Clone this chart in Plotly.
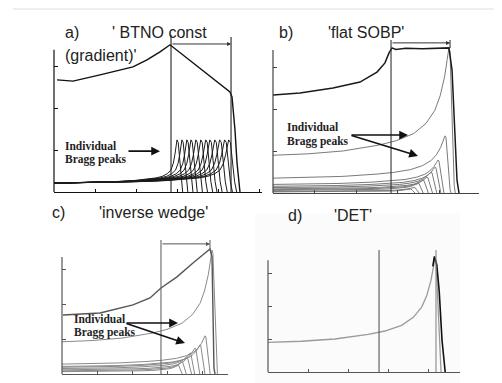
import plotly.graph_objects as go

W, H = 502, 383
OFF = 8  # the page body adds an 8px margin; picture coordinates are shifted back by it

# ---------------- data (axis units) ----------------
# panel a  'BTNO const (gradient)'
A_SOBP_X = [0.37, 2.32, 5.61, 9.63, 11.34, 12.93, 14.15, 21.46, 21.71, 22.07, 22.32, 22.68]
A_SOBP_Y = [2.69, 2.66, 2.81, 3.00, 3.17, 3.36, 3.53, 2.40, 2.28, 1.49, 0.70, 0.0]
A_PEAK_RANGE = [15.0, 15.6, 16.2, 16.7, 17.3, 17.9, 18.5, 19.0, 19.6, 20.2, 20.8, 21.3]
A_PEAK_DOSE = [1.25, 1.25, 1.25, 1.25, 1.25, 1.25, 1.25, 1.25, 1.25, 1.25, 1.25, 1.25]
A_SHAPE_FRAC = [0, 0.3, 0.5, 0.65, 0.75, 0.83, 0.88, 0.92, 0.95, 0.97, 0.983, 0.993, 1.0, 1.01, 1.022, 1.034, 1.046]
A_SHAPE_REL = [0.17, 0.18, 0.2, 0.22, 0.24, 0.27, 0.30, 0.35, 0.42, 0.55, 0.72, 0.9, 1.0, 0.95, 0.6, 0.2, 0.0]

# panel b  'flat SOBP'
B_SOBP_X = [0.0, 3.25, 7.23, 10.48, 12.53, 13.49, 13.98, 14.34, 14.8, 16.0, 18.0, 20.0, 21.2, 21.57, 21.93, 22.17, 22.41]
B_SOBP_Y = [2.35, 2.40, 2.52, 2.66, 2.90, 3.12, 3.36, 3.48, 3.44, 3.47, 3.46, 3.47, 3.48, 2.95, 1.51, 0.31, 0.0]
B_PEAK_RANGE = [21.2, 20.72, 19.88, 19.52, 19.04, 18.55, 18.07, 17.47, 16.99, 16.51]
B_PEAK_DOSE = [3.48, 1.37, 0.79, 0.62, 0.50, 0.38, 0.31, 0.24, 0.14, 0.10]

# panel c  'inverse wedge'
C_SOBP_X = [0.14, 5.43, 10.14, 12.57, 14.14, 16.43, 18.71, 21.14, 21.43, 21.71, 21.86]
C_SOBP_Y = [1.70, 1.76, 1.99, 2.19, 2.48, 2.80, 3.20, 3.60, 3.37, 0.17, 0.0]
C_PEAK_RANGE = [21.43, 20.43, 19.71, 19.0, 18.29, 17.86, 17.14, 16.57]
C_PEAK_DOSE = [3.57, 1.10, 0.84, 0.75, 0.61, 0.46, 0.35, 0.26]

# panel d  'DET'
D_PEAK_RANGE = [20.88]
D_PEAK_DOSE = [3.45]
D_FALL_X = [20.6, 20.8, 21.1, 21.4, 21.75, 22.0, 22.15]
D_FALL_Y = [3.2, 3.5, 3.25, 2.45, 0.97, 0.2, 0.0]

# common Bragg-peak profile (depth / range, dose / peak dose)
T_SHAPE_FRAC = [0, 0.2, 0.4, 0.6, 0.7, 0.8, 0.87, 0.92, 0.95, 0.975, 0.99, 0.997, 1.0, 1.006, 1.018, 1.03, 1.036]
T_SHAPE_REL = [0.26, 0.27, 0.29, 0.33, 0.36, 0.41, 0.48, 0.57, 0.67, 0.8, 0.92, 0.98, 1.0, 0.97, 0.57, 0.05, 0.0]

# vertical marker lines: (x, y_top, y_bottom)
A_VLINES = [(14.27, 3.77, 0.0), (21.59, 3.72, 0.0)]
B_VLINES = [(14.22, 3.67, 0.0), (21.33, 3.67, 3.48)]
C_VLINES = [(14.14, 3.86, 0.0), (21.14, 3.86, 3.6)]
D_VLINES = [(13.88, 3.7, 0.0), (21.0, 3.7, 0.0)]
# SOBP width brackets: (x_start, x_end, y)
A_BRACKET = (14.27, 21.59, 3.55)
B_BRACKET = (14.22, 21.33, 3.60)
C_BRACKET = (14.14, 21.14, 3.75)
# 'Individual Bragg peaks' arrows: tail, head
A_ARROWS = [((8.9, 0.98), (12.93, 0.98))]
B_ARROWS = [((9.28, 1.39), (16.27, 1.39)), ((9.28, 1.39), (17.47, 0.89))]
C_ARROWS = [((9.0, 1.47), (16.57, 1.47)), ((9.0, 1.47), (17.57, 0.89))]

TICKS_X = [5, 10, 15, 20, 25]
TICKS_Y = [1, 2, 3]


def fx(px):
    return (px - OFF) / W


def fy(py):
    return 1 - (py - OFF) / H


# ---------------- layout geometry (pixels in the reference) ----------------
panels = [
    dict(k='', left=54, right=262, bottom=192, top=33, xs=8.2, ys=41.7, spine_top=3.41, axc='#111'),
    dict(k='2', left=273, right=479, bottom=193, top=33, xs=8.3, ys=41.7, spine_top=3.43, axc='#444'),
    dict(k='3', left=62, right=228, bottom=374, top=236, xs=7.0, ys=34.7, spine_top=3.37, axc='#555'),
    dict(k='4', left=268, right=460, bottom=372, top=245, xs=8.0, ys=33.0, spine_top=3.39, axc='#555'),
]

fig = go.Figure()


def add_line(x, y, k, color, width):
    fig.add_trace(go.Scatter(x=x, y=y, mode='lines', xaxis='x' + k, yaxis='y' + k,
                             line=dict(color=color, width=width), hoverinfo='skip',
                             showlegend=False))


def add_peaks(ranges, doses, frac, rel, k, color, width):
    for R, D in zip(ranges, doses):
        add_line([R * f for f in frac], [D * r for r in rel], k, color, width)


# panel a
add_peaks(A_PEAK_RANGE, A_PEAK_DOSE, A_SHAPE_FRAC, A_SHAPE_REL, '', '#1a1a1a', 1.0)
add_line(A_SOBP_X, A_SOBP_Y, '', '#111', 1.4)
# panel b
add_peaks(B_PEAK_RANGE, B_PEAK_DOSE, T_SHAPE_FRAC, T_SHAPE_REL, '2', '#7a7a7a', 1.0)
add_line(B_SOBP_X, B_SOBP_Y, '2', '#1a1a1a', 1.5)
# panel c
add_peaks(C_PEAK_RANGE, C_PEAK_DOSE, T_SHAPE_FRAC, T_SHAPE_REL, '3', '#8a8a8a', 1.0)
add_line(C_SOBP_X, C_SOBP_Y, '3', '#555', 1.4)
# panel d
add_peaks(D_PEAK_RANGE, D_PEAK_DOSE, T_SHAPE_FRAC, T_SHAPE_REL, '4', '#9a9a9a', 1.3)
add_line(D_FALL_X, D_FALL_Y, '4', '#111', 1.6)

layout = dict(width=W, height=H, margin=dict(l=0, r=0, t=0, b=0),
              paper_bgcolor='white', plot_bgcolor='rgba(0,0,0,0)', showlegend=False)
shapes = []
annotations = []

for p in panels:
    k = p['k']
    xmax = (p['right'] - p['left']) / p['xs']
    ymax = (p['bottom'] - p['top']) / p['ys']
    layout['xaxis' + k] = dict(domain=[fx(p['left']), fx(p['right'])], range=[0, xmax],
                               anchor='y' + k, showline=True, linecolor=p['axc'], linewidth=1.2,
                               ticks='inside', ticklen=3, tickwidth=1, tickcolor=p['axc'],
                               tickvals=TICKS_X, showticklabels=False, showgrid=False,
                               zeroline=False, fixedrange=True)
    layout['yaxis' + k] = dict(domain=[fy(p['bottom']), fy(p['top'])], range=[0, ymax],
                               anchor='x' + k, showline=False,
                               ticks='inside', ticklen=4, tickwidth=1, tickcolor=p['axc'],
                               tickvals=TICKS_Y, showticklabels=False, showgrid=False,
                               zeroline=False, fixedrange=True)
    # y spine (domain references, so it is not clipped)
    shapes.append(dict(type='line', xref='x' + k + ' domain', yref='y' + k + ' domain',
                       x0=0, x1=0, y0=0, y1=p['spine_top'] / ymax,
                       line=dict(color=p['axc'], width=1.2)))

vl_colors = ['#222', '#333', '#666', '#555']
for p, vls, c in zip(panels, [A_VLINES, B_VLINES, C_VLINES, D_VLINES], vl_colors):
    k = p['k']
    for x, yt, yb in vls:
        shapes.append(dict(type='line', xref='x' + k, yref='y' + k, x0=x, x1=x, y0=yb, y1=yt,
                           line=dict(color=c, width=1.1)))
# second vline in d is light grey
shapes[-1]['line']['color'] = '#888'

for p, br, c in zip(panels[:3], [A_BRACKET, B_BRACKET, C_BRACKET], ['#333', '#333', '#555']):
    k = p['k']
    annotations.append(dict(xref='x' + k, yref='y' + k, axref='x' + k, ayref='y' + k,
                            x=br[1], y=br[2], ax=br[0], ay=br[2], text='', showarrow=True,
                            arrowhead=2, arrowsize=0.8, arrowwidth=1, arrowcolor=c))

for p, arrs in zip(panels[:3], [A_ARROWS, B_ARROWS, C_ARROWS]):
    k = p['k']
    for (tx, ty), (hx, hy) in arrs:
        annotations.append(dict(xref='x' + k, yref='y' + k, axref='x' + k, ayref='y' + k,
                                x=hx, y=hy, ax=tx, ay=ty, text='', showarrow=True,
                                arrowhead=2, arrowsize=1.1, arrowwidth=1.6, arrowcolor='#111'))

# labels  (text, x px, y px)
SANS = 'Liberation Sans, Arial, sans-serif'
SERIF = 'Liberation Serif, Times New Roman, serif'
titles = [('a)', 63, 33), ("' BTNO const", 110, 33), ("(gradient)'", 63, 56),
          ('b)', 277, 33), ("'flat SOBP'", 326, 33),
          ('c)', 50, 212), ("'inverse wedge'", 97, 212),
          ('d)', 286, 215), ("'DET'", 332, 215)]
for t, x, y in titles:
    annotations.append(dict(xref='paper', yref='paper', x=fx(x), y=fy(y), text=t,
                            showarrow=False, xanchor='left', yanchor='middle',
                            font=dict(family=SANS, size=16, color='#222')))
labels = [(63, 146, 159), (285, 127, 141), (72, 319, 332)]
for x, y1, y2 in labels:
    for t, y in (('Individual', y1), ('Bragg peaks', y2)):
        annotations.append(dict(xref='paper', yref='paper', x=fx(x), y=fy(y),
                                text='<b>' + t + '</b>', showarrow=False, xanchor='left',
                                yanchor='middle', font=dict(family=SERIF, size=11.5, color='#222')))

# decorations: faint top rule and the slightly grey panel-d backdrop
shapes.append(dict(type='line', xref='paper', yref='paper', x0=fx(13), x1=1, y0=fy(9),
                   y1=fy(9), line=dict(color='#dedede', width=1), layer='below'))
shapes.append(dict(type='rect', xref='paper', yref='paper', x0=fx(255), x1=fx(460), y0=0,
                   y1=fy(213), fillcolor='#fbfbfb', line=dict(width=0), layer='below'))

layout['shapes'] = shapes
layout['annotations'] = annotations
fig.update_layout(**layout)
fig.write_html('out.html')
